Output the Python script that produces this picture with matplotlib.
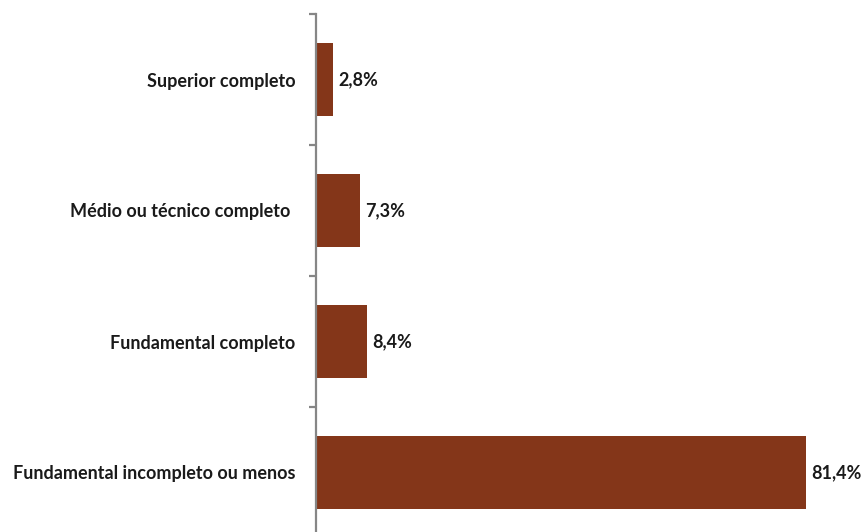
import matplotlib.pyplot as plt

plt.rcParams["font.family"] = ["Lato", "DejaVu Sans"]

# data (bottom to top)
categories = [
    "Fundamental incompleto ou menos",
    "Fundamental completo",
    "Médio ou técnico completo ",
    "Superior completo",
]
shares = [81.4, 8.4, 7.3, 2.8]
value_labels = ["81,4%", "8,4%", "7,3%", "2,8%"]

bar_color = "#843619"
axis_color = "#868686"

W, H = 865, 532
fig = plt.figure(figsize=(W / 100, H / 100), dpi=100)

# spine at x=316 px; categories 131 px apart, top boundary at y=14 px
px_per_unit = 131
left = 316 / W
width = 541.8 / W
top_px = 14
bottom_px = top_px + 4 * px_per_unit
ax = fig.add_axes([left, 1 - bottom_px / H, width, (bottom_px - top_px) / H])

pos = list(range(len(categories)))
bars = ax.barh(pos, shares, height=0.55, color=bar_color, zorder=2)

ax.set_xlim(0, 90)
ax.set_ylim(-0.5, len(categories) - 0.5)

for s in ["top", "right", "bottom"]:
    ax.spines[s].set_visible(False)
ax.spines["left"].set_color(axis_color)
ax.spines["left"].set_linewidth(1.6)
ax.spines["left"].set_clip_on(False)

ax.set_xticks([])
# boundary ticks, labels on minor ticks at the centres
ax.set_yticks([p - 0.5 for p in pos] + [len(pos) - 0.5])
ax.set_yticklabels([])
ax.tick_params(axis="y", which="major", length=5, width=1.6, color=axis_color, direction="out")
ax.set_yticks(pos, minor=True)
ax.set_yticklabels(categories, minor=True, fontsize=13, fontweight="bold", color="#1a1a1a")
ax.tick_params(axis="y", which="minor", length=0, pad=15)

ax.bar_label(bars, labels=value_labels, padding=4, fontsize=13, fontweight="bold",
             color="#1a1a1a", clip_on=False)

fig.savefig("out.png", dpi=100, facecolor="white")
